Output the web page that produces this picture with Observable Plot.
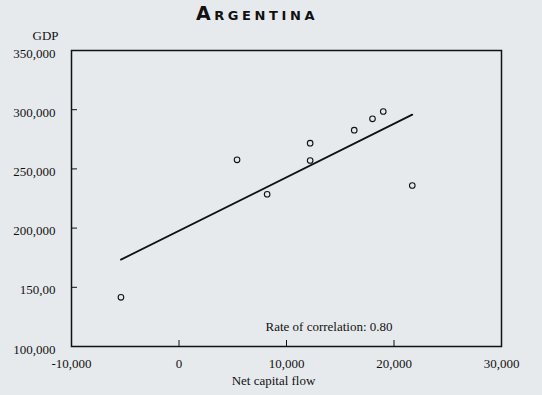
<!DOCTYPE html>
<html><head><meta charset="utf-8">
<script src="https://cdn.jsdelivr.net/npm/d3@7"></script>
<script src="https://cdn.jsdelivr.net/npm/@observablehq/plot@0.6"></script>
<style>
html,body{margin:0;padding:0;background:#e7eaed;}
#title{width:514px;height:26px;line-height:27px;text-align:center;font-family:"DejaVu Sans";font-weight:bold;font-variant:small-caps;font-size:19px;letter-spacing:3.6px;color:#111;}
svg{display:block;}
</style></head><body>
<div id="chart"><div id="title">Argentina</div></div>
<script>
const netCapitalFlow = [-5400, 5400, 8200, 12200, 12200, 16300, 18000, 19000, 21700];
const gdp = [141500, 257700, 228600, 257100, 271700, 282700, 292300, 298500, 236000];
const xTicks = [-10000, 0, 10000, 20000, 30000];
const xTickLabels = ["-10,000", "0", "10,000", "20,000", "30,000"];
const yTicks = [100000, 150000, 200000, 250000, 300000, 350000];
const yTickLabels = ["100,000", "150,00", "200,000", "250,000", "300,000", "350,000"];
const xInnerTicks = [0, 10000, 20000];
const yInnerTicks = [150000, 200000, 250000, 300000];
const yLabel = "GDP";
const xLabel = "Net capital flow";
const correlationLabel = "Rate of correlation: 0.80";

const points = netCapitalFlow.map((x, i) => ({x, y: gdp[i]}));

const chart = Plot.plot({
  width: 542,
  height: 369,
  marginLeft: 71,
  marginRight: 41,
  marginTop: 24,
  marginBottom: 49,
  style: {fontFamily: "Liberation Serif", fontSize: "13px", background: "transparent", color: "#111"},
  x: {domain: [-10000, 30000]},
  y: {domain: [100000, 350000]},
  marks: [
    Plot.frame({stroke: "#111", strokeWidth: 1.5}),
    Plot.axisX(xTicks, {tickSize: 0, tickPadding: 12, tickFormat: d => xTickLabels[xTicks.indexOf(d)], label: null}),
    Plot.axisX(xInnerTicks, {tickSize: -6, tickFormat: () => "", label: null, stroke: "#111"}),
    Plot.axisY(yTicks, {tickSize: 0, tickPadding: 16, dy: 3, tickFormat: d => yTickLabels[yTicks.indexOf(d)], label: null}),
    Plot.axisY(yInnerTicks, {tickSize: -6, tickFormat: () => "", label: null, stroke: "#111"}),
    Plot.linearRegressionY(points, {x: "x", y: "y", ci: 0, stroke: "#111", strokeWidth: 1.8}),
    Plot.dot(points, {x: "x", y: "y", r: 2.8, stroke: "#111", fill: "none", strokeWidth: 1.1}),
    Plot.text([yLabel], {frameAnchor: "top-left", dx: -26, dy: -15, text: d => d, lineAnchor: "middle", textAnchor: "middle", fill: "#111"}),
    Plot.text([xLabel], {frameAnchor: "bottom", dx: -13, dy: 34, text: d => d, lineAnchor: "middle", textAnchor: "middle", fill: "#111"}),
    Plot.text([correlationLabel], {frameAnchor: "bottom-right", dx: -236, dy: -20, text: d => d, lineAnchor: "middle", textAnchor: "start", fill: "#111"})
  ]
});
document.getElementById("chart").appendChild(chart);
</script>
</body></html>
